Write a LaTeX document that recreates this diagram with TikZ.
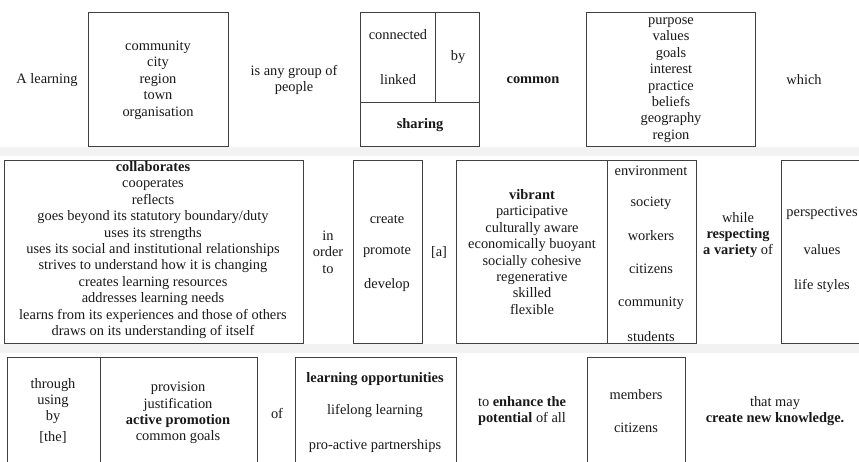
\documentclass[tikz,border=0pt]{standalone}
\usepackage{fontspec}
\setmainfont{Liberation Serif}
\begin{document}
\begin{tikzpicture}[x=1pt,y=-1pt,
  txt/.style={inner sep=0pt,align=center,text=black!90,font=\fontsize{14.4}{16.4}\selectfont},
  box/.style={draw=black!75,line width=0.9pt},
  band/.style={fill=black!5,draw=none}]
\useasboundingbox (0,0) rectangle (859,461);
\clip (0,0) rectangle (859,461);
\fill[white] (0,0) rectangle (859,461);
\fill[band] (0,147) rectangle (859,156);
\fill[band] (0,344) rectangle (859,353);

% ---------- Row 1 ----------
\node[txt] (alearning) at (47,80) {A learning};
\draw[box] (88,12) rectangle (228,146);
\node[txt] (community) at (158,80) {community\\city\\region\\town\\organisation};
\node[txt] (anygroup) at (294,80) {is any group of\\people};
\draw[box] (360,12) rectangle (479,146);
\draw[box] (435,12) -- (435,102);
\draw[box] (360,102) -- (479,102);
\node[txt] (connected) at (398,35) {connected};
\node[txt] (linked) at (398,80) {linked};
\node[txt] (by1) at (458,57) {by};
\node[txt] (sharing) at (420,125) {\textbf{sharing}};
\node[txt] (common) at (533,80) {\textbf{common}};
\draw[box] (586,12) rectangle (755,146);
\node[txt] (purpose) at (671,80) {purpose\\values\\goals\\interest\\practice\\beliefs\\geography\\region};
\node[txt] (which) at (804,80) {which};

% ---------- Row 2 ----------
\draw[box] (4,160) rectangle (303,343);
\node[txt] (collab) at (153,250) {\textbf{collaborates}\\cooperates\\reflects\\goes beyond its statutory boundary/duty\\uses its strengths\\uses its social and institutional relationships\\strives to understand how it is changing\\creates learning resources\\addresses learning needs\\learns from its experiences and those of others\\draws on its understanding of itself};
\node[txt] (inorder) at (328,252) {in\\order\\to};
\draw[box] (353,160) rectangle (422,343);
\node[txt] (create) at (387,220) {create};
\node[txt] (promote) at (387,252) {promote};
\node[txt] (develop) at (387,285) {develop};
\node[txt] (a) at (439,252) {[a]};
\draw[box] (456,160) rectangle (696,343);
\draw[box] (607,160) -- (607,343);
\node[txt] (vibrant) at (532,252) {\textbf{vibrant}\\participative\\culturally aware\\economically buoyant\\socially cohesive\\regenerative\\skilled\\flexible};
\node[txt] (environment) at (651,171) {environment};
\node[txt] (society) at (651,203) {society};
\node[txt] (workers) at (651,236) {workers};
\node[txt] (citizens1) at (651,269) {citizens};
\node[txt] (community2) at (651,303) {community};
\node[txt] (students) at (651,337) {students};
\node[txt] (while) at (738,235) {while\\\textbf{respecting}\\\textbf{a variety} of};
\draw[box] (781,160) rectangle (870,343);
\node[txt] (perspectives) at (822,213) {perspectives};
\node[txt] (values) at (822,250) {values};
\node[txt] (lifestyles) at (822,286) {life styles};

% ---------- Row 3 ----------
\draw[box] (7,357) rectangle (257,470);
\draw[box] (100,357) -- (100,470);
\node[txt] (through) at (53,401) {through\\using\\by};
\node[txt] (the) at (53,437) {[the]};
\node[txt] (provision) at (178,413) {provision\\justification\\\textbf{active promotion}\\common goals};
\node[txt] (of) at (277,413) {of};
\draw[box] (295,357) rectangle (456,470);
\node[txt] (learnopp) at (375,379) {\textbf{learning opportunities}};
\node[txt] (lifelong) at (375,411) {lifelong learning};
\node[txt] (proactive) at (375,446) {pro-active partnerships};
\node[txt] (enhance) at (522,411) {to \textbf{enhance the}\\\textbf{potential} of all};
\draw[box] (587,357) rectangle (685,470);
\node[txt] (members) at (636,395) {members};
\node[txt] (citizens2) at (636,428) {citizens};
\node[txt] (thatmay) at (775,411) {that may\\\textbf{create new knowledge.}};
\end{tikzpicture}
\end{document}
